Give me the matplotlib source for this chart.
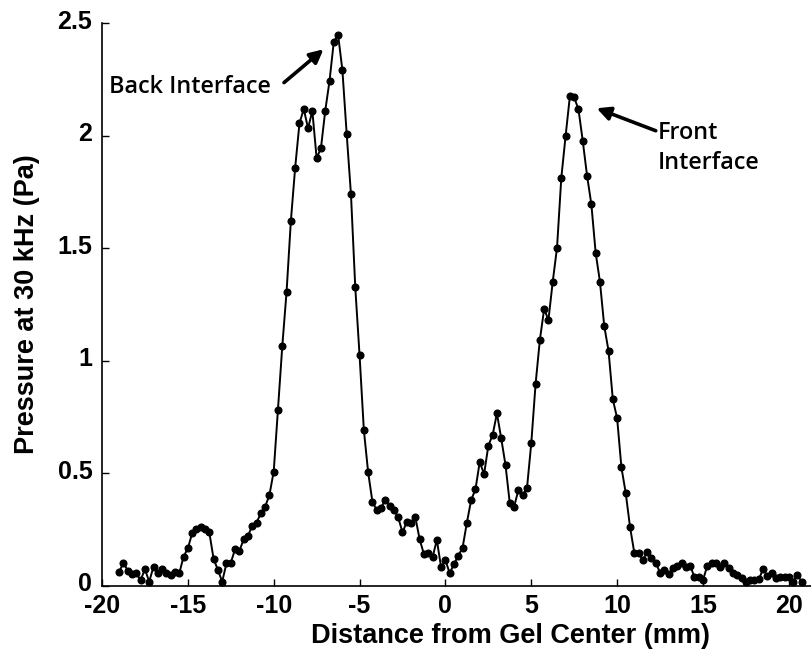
import matplotlib.pyplot as plt
import matplotlib.transforms as mtransforms
import numpy as np

# pressure samples every 0.25 mm across the gel
distance = np.arange(160) * 0.25 - 19.0
pressure = [
    0.062, 0.102, 0.067, 0.050, 0.055, 0.025, 0.073, 0.018, 0.085, 0.058,
    0.076, 0.055, 0.048, 0.062, 0.055, 0.129, 0.166, 0.233, 0.252, 0.260,
    0.252, 0.237, 0.119, 0.070, 0.018, 0.100, 0.102, 0.162, 0.154, 0.206,
    0.221, 0.267, 0.280, 0.322, 0.351, 0.403, 0.507, 0.783, 1.065, 1.307,
    1.622, 1.858, 2.055, 2.119, 2.033, 2.110, 1.900, 1.944, 2.110, 2.243,
    2.418, 2.448, 2.292, 2.008, 1.739, 1.326, 1.025, 0.692, 0.504, 0.373,
    0.336, 0.347, 0.381, 0.356, 0.336, 0.304, 0.237, 0.284, 0.277, 0.304,
    0.206, 0.140, 0.147, 0.126, 0.203, 0.082, 0.114, 0.055, 0.097, 0.133,
    0.169, 0.280, 0.381, 0.428, 0.551, 0.495, 0.622, 0.670, 0.766, 0.655,
    0.536, 0.366, 0.351, 0.425, 0.403, 0.433, 0.633, 0.895, 1.092, 1.230,
    1.181, 1.351, 1.502, 1.813, 1.999, 2.176, 2.170, 2.117, 1.976, 1.822,
    1.695, 1.480, 1.351, 1.154, 1.044, 0.828, 0.745, 0.526, 0.413, 0.262,
    0.147, 0.144, 0.114, 0.151, 0.122, 0.102, 0.058, 0.072, 0.050, 0.077,
    0.088, 0.102, 0.085, 0.089, 0.040, 0.037, 0.025, 0.088, 0.102, 0.099,
    0.085, 0.102, 0.077, 0.058, 0.048, 0.033, 0.018, 0.025, 0.025, 0.028,
    0.074, 0.043, 0.058, 0.033, 0.040, 0.040, 0.040, 0.018, 0.048, 0.018,
]

x_ticks = [-20, -15, -10, -5, 0, 5, 10, 15, 20]
y_ticks = [0, 0.5, 1, 1.5, 2, 2.5]
y_tick_labels = ['0', '0.5', '1', '1.5', '2', '2.5']

plt.rcParams['font.family'] = ['Liberation Sans', 'DejaVu Sans']

fig = plt.figure(figsize=(8.12, 6.5), dpi=100)
ax = fig.add_axes([102 / 812, 64.3 / 650, 710 / 812, 562.5 / 650])

ax.plot(distance, pressure, '-o', color='black', lw=1.4, markersize=4.8)

ax.set_xlim(-20, 21.35)
ax.set_ylim(0, 2.5)
ax.set_xticks(x_ticks)
ax.set_xticklabels([str(t) for t in x_ticks])
ax.set_yticks(y_ticks)
ax.set_yticklabels(y_tick_labels)
ax.tick_params(direction='in', length=5, width=1, labelsize=18)
ax.tick_params(axis='x', pad=6)
ax.tick_params(axis='y', pad=7)
for lab in ax.get_xticklabels() + ax.get_yticklabels():
    lab.set_fontweight('bold')

# y tick labels sit a few pixels above their ticks
lift = mtransforms.ScaledTranslation(0, 0.04, fig.dpi_scale_trans)
for lab in ax.get_yticklabels():
    lab.set_transform(lab.get_transform() + lift)

ax.spines['top'].set_visible(False)
ax.spines['right'].set_visible(False)
ax.spines['left'].set_linewidth(1.2)
ax.spines['bottom'].set_linewidth(1.2)

ax.set_xlabel('Distance from Gel Center (mm)', fontsize=19.5, fontweight='bold', va='center')
ax.xaxis.set_label_coords(0.576, -0.089)
ax.set_ylabel('Pressure at 30 kHz (Pa)', fontsize=19.5, fontweight='bold', va='center')
ax.yaxis.set_label_coords(-0.106, 0.5)

# labels for the two interface peaks
note_font = dict(family=['Open Sans', 'DejaVu Sans'], fontsize=16.8, fontweight='semibold')
ax.annotate('', xy=(-7.1, 2.384), xytext=(-9.4, 2.236),
            arrowprops=dict(arrowstyle='-|>', lw=2.6, color='black', mutation_scale=20,
                            shrinkA=0, shrinkB=0))
ax.text(-10.17, 2.216, 'Back Interface', ha='right', va='center', **note_font)

ax.annotate('', xy=(8.81, 2.122), xytext=(12.25, 2.022),
            arrowprops=dict(arrowstyle='-|>', lw=2.6, color='black', mutation_scale=20,
                            shrinkA=0, shrinkB=0))
ax.text(12.35, 1.945, 'Front\nInterface', ha='left', va='center', linespacing=1.3, **note_font)

fig.savefig('out.png', dpi=100)
